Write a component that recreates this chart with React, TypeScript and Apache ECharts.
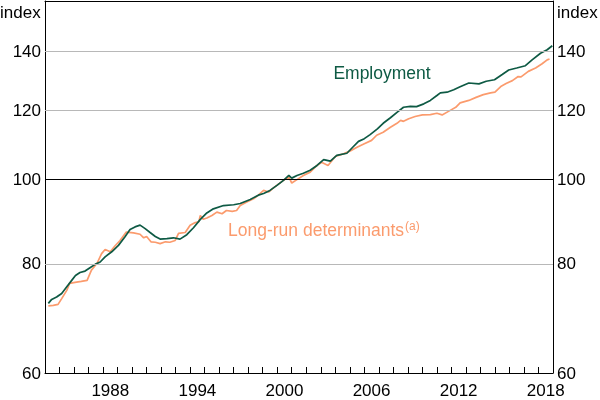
import React, { useEffect, useRef } from 'react';
import * as echarts from 'echarts';

const empYears = [1984.23, 1984.46, 1984.8, 1985.15, 1985.5, 1985.84, 1986.1, 1986.41, 1986.76, 1987.1, 1987.45, 1987.8, 1988.14, 1988.6, 1989.06, 1989.5, 1989.86, 1990.2, 1990.55, 1990.9, 1991.24, 1991.6, 1991.93, 1992.4, 1992.85, 1993.3, 1993.77, 1994.23, 1994.69, 1995.15, 1995.6, 1996.3, 1997.0, 1997.45, 1998.14, 1998.7, 1999.06, 1999.5, 1999.98, 2000.43, 2000.8, 2001.0, 2001.36, 2001.8, 2002.27, 2002.74, 2003.2, 2003.66, 2004.1, 2004.8, 2005.2, 2005.6, 2006.0, 2006.4, 2006.9, 2007.3, 2007.8, 2008.25, 2008.7, 2009.17, 2009.6, 2010.1, 2010.55, 2011.0, 2011.24, 2011.7, 2012.16, 2012.6, 2013.2, 2013.9, 2014.4, 2014.97, 2015.5, 2015.95, 2016.5, 2017.1, 2017.56, 2018.14, 2018.6, 2018.95];
const empValues = [72.1, 72.85, 73.3, 74.0, 75.3, 76.6, 77.6, 78.2, 78.5, 79.2, 79.9, 80.4, 81.5, 82.6, 84.0, 85.9, 87.6, 88.2, 88.6, 87.8, 86.9, 86.0, 85.4, 85.5, 85.7, 85.4, 86.4, 88.0, 89.9, 91.5, 92.5, 93.3, 93.5, 93.8, 94.8, 95.9, 96.3, 97.1, 98.4, 99.7, 101.0, 100.3, 101.0, 101.6, 102.4, 103.7, 105.3, 104.9, 106.5, 107.1, 108.8, 110.5, 111.3, 112.5, 114.2, 115.9, 117.6, 119.3, 120.9, 121.2, 121.1, 122.0, 123.1, 124.7, 125.6, 125.8, 126.6, 127.6, 128.9, 128.6, 129.5, 130.0, 131.8, 133.4, 134.1, 134.9, 137.0, 139.4, 140.7, 142.2];

const lrdYears = [1984.23, 1984.57, 1984.9, 1985.15, 1985.5, 1985.7, 1986.07, 1986.5, 1986.9, 1987.2, 1987.6, 1987.9, 1988.14, 1988.5, 1988.8, 1989.17, 1989.6, 1990.1, 1990.55, 1990.8, 1991.0, 1991.3, 1991.6, 1991.93, 1992.3, 1992.6, 1992.97, 1993.2, 1993.66, 1994.0, 1994.35, 1994.6, 1994.7, 1994.9, 1995.15, 1995.5, 1995.84, 1996.2, 1996.5, 1996.9, 1997.2, 1997.45, 1997.9, 1998.37, 1998.7, 1999.06, 1999.4, 1999.83, 2000.43, 2000.8, 2001.0, 2001.36, 2001.8, 2002.27, 2002.74, 2003.05, 2003.5, 2004.0, 2004.6, 2005.0, 2005.5, 2006.0, 2006.5, 2006.85, 2007.3, 2007.8, 2008.25, 2008.5, 2008.7, 2009.06, 2009.5, 2010.0, 2010.55, 2011.0, 2011.36, 2011.8, 2012.3, 2012.6, 2013.2, 2013.7, 2014.2, 2014.7, 2015.0, 2015.4, 2015.8, 2016.2, 2016.6, 2016.8, 2017.3, 2017.8, 2018.25, 2018.6, 2018.76];
const lrdValues = [71.6, 71.7, 71.9, 73.0, 74.6, 76.0, 76.2, 76.4, 76.6, 78.7, 80.2, 82.2, 83.1, 82.6, 83.8, 85.1, 87.0, 86.8, 86.5, 85.7, 86.0, 84.8, 84.7, 84.4, 84.8, 84.7, 85.1, 86.7, 86.9, 88.6, 89.2, 89.4, 90.9, 90.0, 90.3, 90.9, 91.7, 91.3, 92.1, 91.9, 92.1, 93.3, 94.2, 95.0, 95.9, 97.1, 96.7, 98.0, 99.7, 100.6, 99.0, 99.9, 101.0, 101.9, 103.7, 104.6, 103.7, 106.2, 107.0, 107.7, 108.8, 109.8, 110.8, 112.3, 113.2, 114.7, 115.9, 116.8, 116.5, 117.3, 118.0, 118.5, 118.6, 119.0, 118.5, 119.6, 120.9, 122.3, 123.1, 124.1, 125.0, 125.6, 125.8, 127.7, 128.8, 129.7, 131.1, 131.0, 132.9, 134.1, 135.6, 137.0, 137.3];

const yTickValues = [60, 80, 100, 120, 140];
const yGridValues = [80, 100, 120, 140];
const xLabelYears = [1988, 1994, 2000, 2006, 2012, 2018];

const GREEN = '#0e5a44';
const ORANGE = '#fb9b6d';
const FONT = 'Arial, "Liberation Sans", sans-serif';

export default function App() {
  const ref = useRef<HTMLDivElement>(null);
  useEffect(() => {
    const chart = echarts.init(ref.current as HTMLDivElement, null, { renderer: 'svg' });
    const yAxisBase = (position: string) => ({
      type: 'log',
      logBase: 10,
      min: 60,
      max: 160,
      position,
      axisLine: { show: true, lineStyle: { color: '#000', width: 1 } },
      axisTick: { show: false },
      splitLine: { show: false },
      axisLabel: {
        customValues: yTickValues,
        color: '#000',
        fontSize: 17,
        fontFamily: FONT,
        margin: 4,
      },
    });
    chart.setOption({
      animation: false,
      grid: { left: 45, right: 47, top: 1, bottom: 27 },
      xAxis: [
        {
          type: 'value',
          min: 1984,
          max: 2019,
          interval: 1,
          position: 'bottom',
          axisLine: { show: true, onZero: false, lineStyle: { color: '#000', width: 1 } },
          axisTick: { show: true, inside: true, length: 6, lineStyle: { color: '#000', width: 1 } },
          splitLine: { show: false },
          axisLabel: { show: false },
        },
        {
          type: 'value',
          min: 1984,
          max: 2019,
          position: 'bottom',
          axisLine: { show: false, onZero: false },
          axisTick: { show: false },
          splitLine: { show: false },
          axisLabel: {
            customValues: xLabelYears.map((y) => y + 0.5),
            formatter: (v: number) => String(Math.floor(v)),
            color: '#000',
            fontSize: 17,
            fontFamily: FONT,
            margin: 9,
          },
        },
        {
          type: 'value',
          min: 1984,
          max: 2019,
          position: 'top',
          axisLine: { show: true, onZero: false, lineStyle: { color: '#000', width: 1 } },
          axisTick: { show: false },
          splitLine: { show: false },
          axisLabel: { show: false },
        },
      ],
      yAxis: [yAxisBase('left'), yAxisBase('right')],
      series: [
        {
          type: 'line',
          data: [],
          z: 1,
          silent: true,
          markLine: {
            silent: true,
            symbol: 'none',
            label: { show: false },
            data: yGridValues.map((v) => ({
              yAxis: v,
              lineStyle: { color: v === 100 ? '#000' : '#b8b8b8', width: 1, type: 'solid' },
            })),
          },
        },
        {
          type: 'line',
          name: 'Long-run determinants',
          data: lrdYears.map((y, i) => [y, lrdValues[i]]),
          showSymbol: false,
          lineStyle: { color: ORANGE, width: 1.7 },
          itemStyle: { color: ORANGE },
          z: 3,
        },
        {
          type: 'line',
          name: 'Employment',
          data: empYears.map((y, i) => [y, empValues[i]]),
          showSymbol: false,
          lineStyle: { color: GREEN, width: 1.7 },
          itemStyle: { color: GREEN },
          z: 4,
        },
      ],
      graphic: [
        { type: 'text', x: 0, y: 12, style: { text: 'index', fontSize: 17, fontFamily: FONT, fill: '#000', align: 'left', verticalAlign: 'middle' } },
        { type: 'text', x: 557, y: 12, style: { text: 'index', fontSize: 17, fontFamily: FONT, fill: '#000', align: 'left', verticalAlign: 'middle' } },
        { type: 'text', x: 382, y: 73, style: { text: 'Employment', fontSize: 17.5, fontFamily: FONT, fill: GREEN, align: 'center', verticalAlign: 'middle' } },
        {
          type: 'text',
          x: 228,
          y: 230,
          style: {
            text: '{m|Long-run determinants}{s|(a)}',
            fontFamily: FONT,
            fill: ORANGE,
            align: 'left',
            verticalAlign: 'middle',
            rich: {
              m: { fontSize: 17.5, fontFamily: FONT, fill: ORANGE, lineHeight: 20 },
              s: { fontSize: 12, fontFamily: FONT, fill: ORANGE, verticalAlign: 'top', lineHeight: 20, padding: [0, 0, 8, 1] },
            },
          },
        },
      ],
    });
    return () => chart.dispose();
  }, []);
  return <div ref={ref} style={{ position: 'fixed', left: 0, top: 0, width: 600, height: 400 }} />;
}
